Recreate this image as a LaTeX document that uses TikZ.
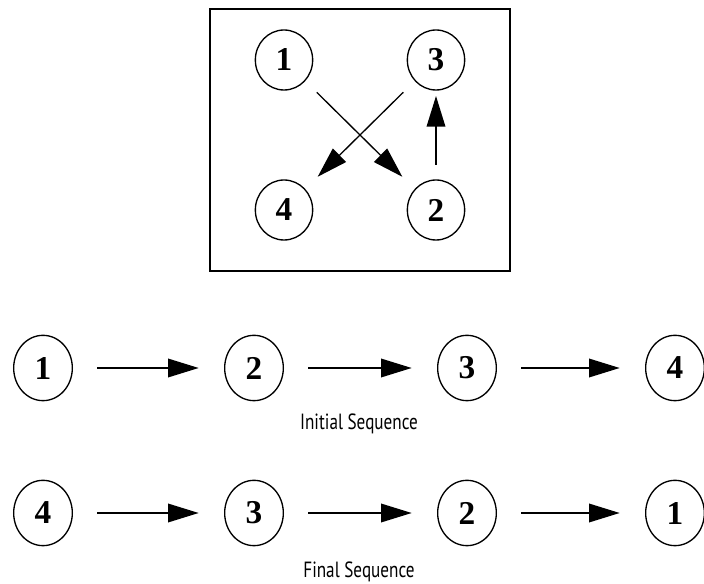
\documentclass[tikz,border=0pt]{standalone}
\usepackage{fontspec}
\setmainfont{Liberation Serif}
\newfontfamily\labelfont[FakeStretch=0.78]{PT Sans}
\usetikzlibrary{shapes.geometric,arrows.meta}
\begin{document}
\begin{tikzpicture}[x=0.75pt,y=-0.75pt,
  numnode/.style={draw,ellipse,line width=1pt,inner sep=0pt,font=\fontsize{25}{25}\selectfont\bfseries},
  topnum/.style={numnode,minimum width=43pt,minimum height=45pt},
  rownum/.style={numnode,minimum width=44pt,minimum height=49pt},
  arr/.style={line width=1pt,-{Triangle[length=23pt,width=14pt]}},
  caption/.style={font=\labelfont\fontsize{16.5}{16.5}\selectfont,anchor=base}]
\useasboundingbox (0,0) rectangle (704,584);
% frame
\node[draw,line width=1pt,minimum width=225pt,minimum height=196.5pt,inner sep=0pt] (frame) at (360,140) {};
% top group
\node[topnum] (t1) at (284,60) {1};
\node[topnum] (t3) at (436,60) {3};
\node[topnum] (t4) at (284,210) {4};
\node[topnum] (t2) at (436,210) {2};
\draw[arr,shorten <=12pt,shorten >=13pt] (t1) -- (t2);
\draw[arr,shorten <=12pt,shorten >=13pt] (t3) -- (t4);
\draw[arr,shorten <=11pt,shorten >=4pt] (t2) -- (t3);
% initial sequence
\node[rownum] (a1) at (43,368) {1};
\node[rownum] (a2) at (254,368) {2};
\node[rownum] (a3) at (467,368) {3};
\node[rownum] (a4) at (675,368) {4};
\draw[arr,shorten <=18pt,shorten >=19pt] (a1) -- (a2);
\draw[arr,shorten <=18pt,shorten >=19pt] (a2) -- (a3);
\draw[arr,shorten <=18pt,shorten >=19pt] (a3) -- (a4);
\node[caption] (cap1) at (359,430) {Initial Sequence};
% final sequence
\node[rownum] (b4) at (43,513) {4};
\node[rownum] (b3) at (254,513) {3};
\node[rownum] (b2) at (467,513) {2};
\node[rownum] (b1) at (675,513) {1};
\draw[arr,shorten <=18pt,shorten >=19pt] (b4) -- (b3);
\draw[arr,shorten <=18pt,shorten >=19pt] (b3) -- (b2);
\draw[arr,shorten <=18pt,shorten >=19pt] (b2) -- (b1);
\node[caption] (cap2) at (359,578) {Final Sequence};
\end{tikzpicture}
\end{document}
